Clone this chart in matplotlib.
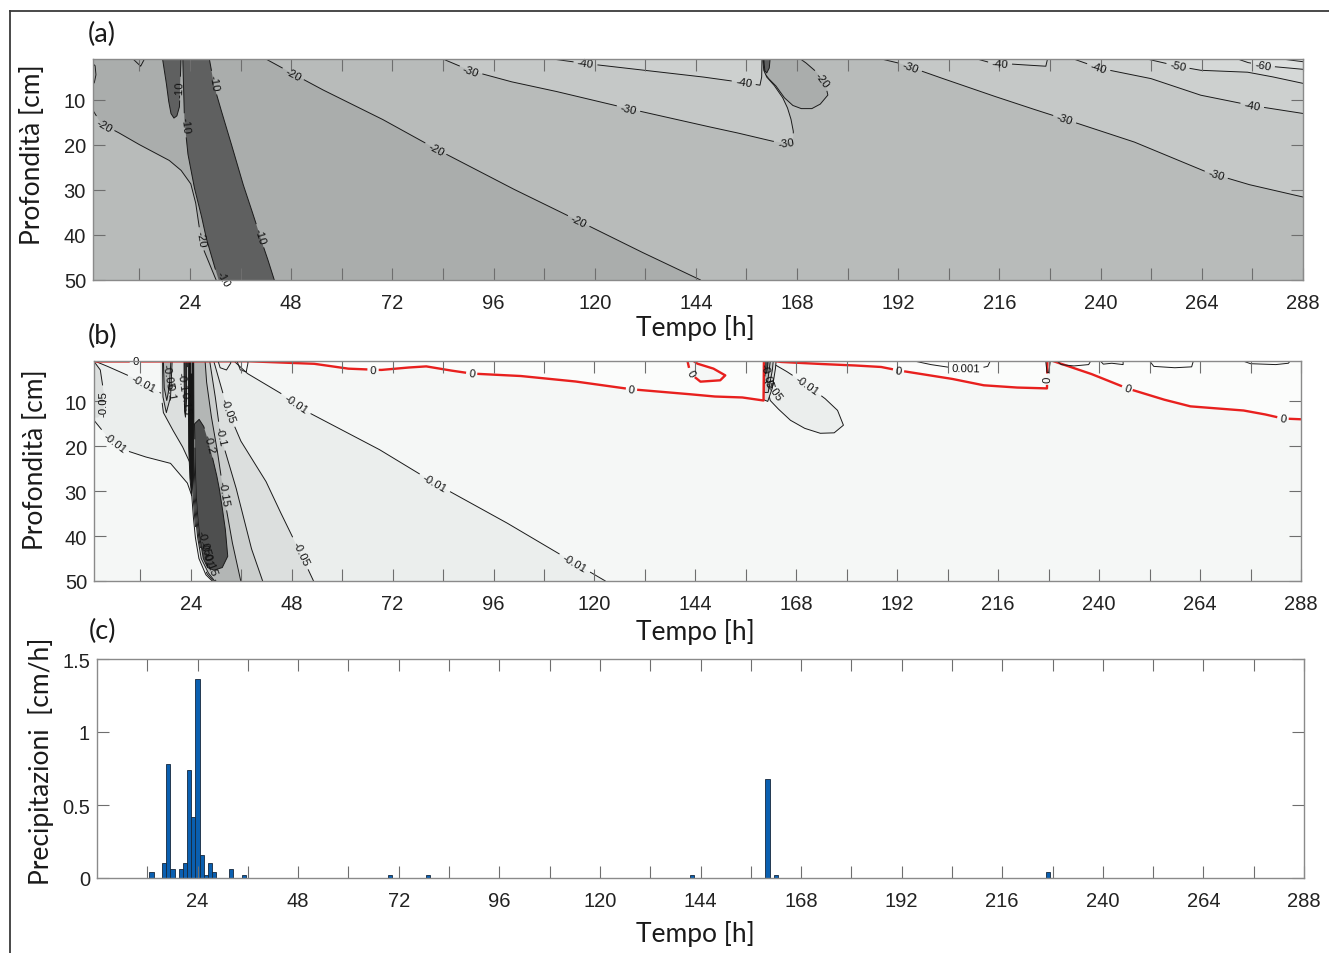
import numpy as np
import matplotlib
matplotlib.use("Agg")
import matplotlib.pyplot as plt
from matplotlib.lines import Line2D

plt.rcParams["font.family"] = ["Liberation Sans", "DejaVu Sans"]

# ------------------------------------------------------------------ data
hour_ticks = list(range(12, 289, 12))
hour_tick_labels = [str(h) if h % 24 == 0 else "" for h in hour_ticks]
depth_ticks = [10, 20, 30, 40, 50]
rain_ticks = [0, 0.5, 1, 1.5]
rain_tick_labels = ["0", "0.5", "1", "1.5"]

# (c) hourly precipitation
rain_hour = [13, 16, 17, 18, 20, 21, 22, 23, 24, 25, 26, 27, 28, 32, 35,
             70, 79, 142, 160, 162, 227]
rain_cm_h = [0.04, 0.10, 0.78, 0.06, 0.06, 0.10, 0.74, 0.42, 1.36, 0.16, 0.02,
             0.10, 0.04, 0.06, 0.02, 0.02, 0.02, 0.02, 0.68, 0.02, 0.04]

a_wet_m20 = [(0, 0), (42, 0), (42, 1), (47.9, 4.0), (55, 7.6), (69.3, 14.2), (82.3, 20.9),
             (100, 29.5), (116.2, 36.9), (130, 43.3), (145.1, 50), (145.1, 51), (30.2, 51),
             (30.2, 50), (28.6, 46.4), (27.0, 42.7), (26.2, 38.3), (25.4, 33.1), (24.2, 28.7),
             (21.9, 25.7), (19.1, 23.5), (12.4, 20.2), (7.6, 17.6), (2.9, 15.3), (1, 12.4), (0, 12.4)]
a_ell_m20 = [(159.95, 0), (159.95, 1), (160.3, 4.2), (161.2, 5.3), (163, 7.0), (165, 9.6),
             (167, 11.3), (169, 12), (171.5, 12), (173.5, 11), (175.3, 9), (174.7, 6.5),
             (172.5, 3.8), (170.3, 2), (168.8, 1), (168.8, 0)]
a_band_m10 = [(22.3, 0), (22.3, 1), (22.5, 8), (22.7, 14.6), (23.5, 22), (25, 29.4), (26.6, 35.3),
              (27.8, 40.5), (29.4, 45.7), (30.8, 50), (30.8, 51), (44, 51), (44, 50), (42.8, 46.4),
              (41.2, 42), (39.2, 36.1), (36.8, 29.4), (34.5, 22), (32.1, 14.6), (29.8, 7.2),
              (28.6, 1), (28.6, 0)]
a_finger_m10 = [(17.5, 0), (17.5, 1), (18.3, 5.7), (18.9, 10.1), (19.5, 13.1), (20.2, 14.1),
                (20.9, 13.6), (21.5, 11.6), (21.7, 5.7), (21.9, 1), (21.9, 0)]
a_sliver_m10 = [(160.1, 0), (160.1, 1), (160.35, 3.6), (160.8, 4.1), (161.4, 3.0), (161.6, 1), (161.6, 0)]
a_dry_m30_1 = [(84, 0), (84, 1), (90.6, 3.6), (100, 6), (110, 8), (128, 12), (145, 15.6),
               (153, 17.2), (162, 19.2), (165, 19.6), (166.6, 19.2), (167.1, 18.3), (167.1, 17),
               (166.6, 14.5), (165.8, 12), (164.6, 9.6), (162.7, 7), (160.8, 5), (160.1, 3.5),
               (159.85, 1), (159.85, 0)]
a_dry_m40_1 = [(110, 0), (110, 1), (117.8, 2), (130, 3.3), (145, 4.9), (155, 6.2), (159.2, 6.8),
               (159.6, 5), (159.7, 1), (159.7, 0)]
a_dry_m30_2 = [(188, 0), (188, 1), (192.5, 2), (200, 4.5), (213, 8.7), (222, 11.5), (231, 14.2),
               (247.7, 19.3), (256, 22.5), (265, 26), (275, 28.8), (288, 31.6), (289, 31.6), (289, 0)]
a_dry_m40_2 = [(210.7, 0), (210.7, 1), (213.8, 1.8), (220, 2.2), (227.0, 2.6), (227.4, 1), (227.4, 0)]
a_dry_m40_3 = [(233.6, 0), (233.6, 1), (240, 3.1), (251.8, 5.3), (263.6, 9), (275.8, 11.3),
               (288, 13.1), (289, 13.1), (289, 0)]
a_dry_m50 = [(251, 0), (251, 1), (258.4, 2.6), (263.6, 3.5), (274.7, 3.9), (280, 4.8), (288, 6.4),
             (289, 6.4), (289, 0)]
a_dry_m60 = [(272.5, 0), (272.5, 1), (275, 1.8), (280, 2.6), (288, 3.3), (289, 3.3), (289, 0)]
a_dry_m70 = [(283, 0), (283, 1), (288, 1.6), (289, 1.6), (289, 0)]
a_small_1 = [(0, 1.2), (1.5, 2.5), (1.7, 4.5), (1.3, 6.3), (0, 6.6)]
a_small_2 = [(10.5, 0), (10.5, 1), (12.3, 2.6), (13.2, 1), (13.2, 0)]

# labels: (region, hour, depth, text[, fixed angle])
a_labels = [("finger", 21.5, 7.5, "-10"), ("band", 22.7, 15.7, "-10"), ("band", 29.2, 6.4, "-10"),
            ("band", 40.8, 40.1, "-10"), ("band", 32.0, 49.6, "-10", -60),
            ("wet", 3.7, 15.7, "-20"), ("wet", 26.6, 40.9, "-20"), ("wet", 48.3, 4.6, "-20"),
            ("wet", 82.3, 20.9, "-20"), ("wet", 116.2, 36.9, "-20"),
            ("d30a", 90.6, 3.6, "-30"), ("d30a", 128, 12, "-30"), ("d30a", 165.5, 19.7, "-30"),
            ("d40a", 117.8, 2.2, "-40"), ("d40a", 155.3, 6.3, "-40"), ("ell", 174.0, 5.5, "-20"),
            ("d30b", 194.9, 2.7, "-30"), ("d30b", 231.6, 14.2, "-30"), ("d30b", 267.4, 26.5, "-30"),
            ("d40b", 216.2, 2.0, "-40"), ("d40c", 239.4, 3.1, "-40"), ("d40c", 275.9, 11.3, "-40"),
            ("d50", 258.4, 2.8, "-50"), ("d60", 278.5, 2.4, "-60")]

b_pos_1 = [(0, 0), (0, 1.1), (20, 1.1), (37.5, 1.05), (53.2, 1.6), (61.3, 2.7), (69.2, 3.0),
           (75, 2.5), (80, 2.2), (85, 3), (90.8, 3.8), (102, 4.3), (115, 5.5), (128.8, 7.3),
           (140.4, 8.2), (148.3, 8.9), (155, 9.1), (160.2, 9.8), (160.3, 0)]
b_loop_0 = [(142.1, 0), (142.1, 0.95), (142.8, 3.8), (145.2, 5.6), (149.9, 5.3), (151.1, 4.2),
            (148.3, 2.7), (144.5, 1.6), (143.5, 0.95), (143.5, 0)]
b_pos_2 = [(162.5, 0), (162.5, 0.95), (164.2, 1.2), (172.1, 1.6), (180, 1.9), (188, 2.3),
           (192.3, 3.1), (204.6, 4.9), (212.4, 6.4), (220, 6.9), (227.6, 7.1), (227.7, 0)]
b_pos_3 = [(229, 0), (229, 1), (237.9, 3.8), (246.7, 7.1), (255, 9.5), (261.7, 11.1),
           (274.2, 12), (279, 12.8), (283.7, 13.8), (288, 14), (289, 14), (289, 0)]
b_neg_001 = [(0, 14.2), (1, 14.2), (4.2, 17.9), (8.2, 20.8), (13, 22.3), (19.2, 23.8),
             (23.2, 28.2), (24.25, 31), (24.55, 35), (25.05, 40), (25.95, 45), (27.6, 48.6),
             (29.1, 50), (29.1, 51), (122.6, 51), (122.6, 50), (115.3, 46), (100, 37.5), (82, 28.2),
             (69.2, 20.9), (52.5, 12.7), (45.4, 8.2), (37.5, 3.8), (34.5, 1.2), (34.5, 0),
             (17.2, 0), (17.2, 1.2), (17.5, 8.5), (16, 7.6), (12.8, 6), (10, 4.6), (5, 2.5),
             (1.5, 1.15), (0, 1.15)]
b_pocket_005 = [(0, 1.1), (1, 1.1), (2.5, 3), (3.3, 8), (3.3, 12), (2, 13.6), (0, 13.6)]
b_ell_001 = [(160.5, 0), (160.5, 1.1), (160.8, 6), (161.8, 9.8), (163.5, 11.5), (166.6, 14.2),
             (170, 16), (173.7, 17.1), (177, 17), (179.2, 15.3), (177.8, 12), (175, 9.5),
             (170.6, 6.4), (166, 3.5), (162.5, 1.6), (162.5, 0)]
b_neg_005 = [(16.8, 0), (16.8, 1.1), (16.9, 8), (17.5, 12.5), (19.5, 16), (22, 20), (24.0, 24),
             (24.35, 25), (24.55, 31), (24.85, 35), (25.35, 40), (26.25, 45), (27.9, 48.4),
             (29.4, 50), (29.4, 51), (53.2, 51), (53.2, 50), (50.1, 43.8), (46, 36), (42, 28),
             (36, 19), (32.8, 12), (31, 6), (29.5, 1.1), (29.5, 0)]
b_neg_005_e = [(160.2, 0), (160.2, 1.1), (160.2, 9.6), (161.2, 10), (162.3, 7), (163, 3), (163.2, 1.1), (163.2, 0)]
b_neg_010_f = [(17.3, 0), (17.3, 1.1), (17.4, 9), (18.2, 12.5), (19.2, 9), (19.6, 1.1), (19.6, 0)]
b_neg_010 = [(23.2, 0), (23.2, 1.1), (23.3, 12), (24.5, 20), (24.6, 25), (24.8, 31), (25.1, 35),
             (25.6, 40), (26.5, 45), (28.2, 48.2), (29.7, 50), (29.7, 51), (41.1, 51), (41.1, 50),
             (38.5, 43), (35.0, 30), (32.5, 22), (31.1, 17.8), (30.0, 10), (28.5, 1.1), (28.5, 0)]
b_neg_010_e = [(160.3, 0), (160.3, 1.1), (160.35, 8), (161.3, 8), (162.3, 3), (162.5, 1.1), (162.5, 0)]
b_neg_015_f = [(17.5, 0), (17.5, 1.1), (17.7, 7), (18.3, 9.8), (18.9, 7), (19.3, 1.1), (19.3, 0)]
b_neg_015 = [(24.6, 0), (24.6, 1.1), (24.6, 15), (24.75, 20), (24.85, 25), (25.05, 31),
             (25.35, 35), (25.85, 40), (26.75, 45), (28.5, 48), (30.0, 50), (30, 51), (35.9, 51),
             (35.9, 50), (34, 42), (31.8, 30.4), (30.5, 22), (29.0, 14), (27.8, 6), (27.4, 1.1), (27.4, 0)]
b_neg_015_e = [(160.4, 0), (160.4, 1.1), (160.45, 6), (161.2, 5.5), (161.8, 1.1), (161.8, 0)]
b_neg_020 = [(24.9, 15), (25.0, 20), (25.1, 25), (25.3, 31), (25.6, 35), (26.1, 40), (27.0, 45),
             (28.0, 47), (29.5, 47.6), (31.5, 47), (32.8, 44.5), (32.3, 39), (31.8, 35.6),
             (30.9, 30), (30.3, 27), (29.3, 23), (28.3, 19.3), (27.1, 15.6), (26.0, 14)]
b_neg_020_e = [(160.45, 0), (160.45, 1.1), (160.5, 4), (161.0, 3.5), (161.3, 1.1), (161.3, 0)]
b_neg_050 = [(23.5, 0), (23.5, 1.1), (23.45, 10), (23.5, 20), (23.8, 27), (24.2, 31), (24.6, 27),
             (24.75, 15), (24.7, 1.1), (24.7, 0)]
b_neg_050_b = [(22.4, 0), (22.4, 1.1), (22.5, 12), (22.75, 13.5), (23.0, 10), (23.05, 1.1), (23.05, 0)]
b_p001_1 = [(196, 0), (196, 1), (200, 1.8), (205, 2.5), (211.5, 2.6), (213.5, 2.2), (214, 1.2), (213.4, 0.9)]
b_p001_2 = [(230, 0), (230, 1), (231, 1.8), (234, 2.1), (237.5, 1.8), (238, 1), (238, 0)]
b_p001_3 = [(240.3, 0), (240.3, 1), (241, 1.7), (243, 1.5), (245.7, 1.8), (245.7, 0)]
b_p001_4 = [(252, 0), (252, 1), (253, 2.2), (258, 2.5), (262, 2.3), (262.4, 1), (262.4, 0)]
b_p001_5 = [(274.2, 0), (274.2, 1), (276, 1.6), (282, 1.8), (285, 1.5), (285.4, 1), (285.4, 0)]
b_small_1 = [(30.5, 0), (30.5, 1), (31, 2.5), (32.5, 3), (33.5, 1.5), (33.6, 0)]
b_small_2 = [(35, 0), (35, 1), (35.8, 3), (37.2, 3.4), (37.6, 1.5), (37.6, 0)]
b_small_3 = [(227.3, 0), (227.3, 1), (227.6, 3.5), (228.0, 3.6), (228.4, 1), (228.4, 0)]

b_labels = [("pos1", 10.9, 1.6, "0"), ("pos1", 67.3, 3.3, "0"), ("pos1", 90.8, 3.8, "0"),
            ("pos1", 128.8, 7.3, "0"), ("loop", 142.8, 3.8, "0"), ("pos2", 192.3, 3.1, "0"),
            ("pos2", 227.65, 5.0, "0"), ("pos3", 246.7, 7.1, "0"), ("pos3", 283.7, 13.8, "0"),
            ("n001", 49.0, 10.4, "-0.01"), ("n001", 82, 28.2, "-0.01"), ("n001", 115.3, 46, "-0.01"),
            ("n001", 12.8, 6, "-0.01"), ("n001", 5.7, 19.3, "-0.01"), ("pocket", 3.3, 10.4, "-0.05"),
            ("n005", 32.8, 12, "-0.05"), ("n005", 50.1, 43.8, "-0.05"), ("n010", 31.1, 17.8, "-0.1"),
            ("n015", 31.8, 30.4, "-0.15"), ("n020", 28.3, 19.3, "-0.2"), ("ell", 170.6, 6.4, "-0.01"),
            ("p001", 208.3, 2.6, "0.001"),
            ("n005", 18.6, 4.5, "-0.05", -80), ("n005", 19.1, 7.5, "-0.1", -80),
            ("n010", 21.9, 5.5, "-0.1", -82), ("n010", 22.6, 10.0, "-0.15", -82),
            ("n005", 27.0, 41.5, "-0.05", -75), ("n005", 27.6, 44.0, "-0.01", -75),
            ("n015", 28.5, 46.0, "-0.15", -70),
            ("n005", 161.0, 4.2, "-0.05", -75), ("n005", 162.4, 7.2, "-0.05", -55)]

# ------------------------------------------------------------------ style
W, H = 1329, 954
A_C = {"gt10": "#5f6060", "10_20": "#aaadac", "20_30": "#b8bbba", "30_40": "#c5c8c7",
       "40_50": "#cdd0cf", "50_60": "#d5d8d7", "60_70": "#dcdfde"}
B_C = {"bg": "#f5f7f6", "pos": "#fbfcfb", "1": "#ebeeed", "2": "#dcdfde", "3": "#cbcecd",
       "4": "#b3b6b5", "5": "#4e4f4f", "6": "#161616"}
RED = "#e8201e"
LABEL_FONT = dict(fontsize=8.2, color="#111111", family=["Liberation Sans", "DejaVu Sans"])

fig = plt.figure(figsize=(W / 100, H / 100), dpi=100)


def rect(l, t, r, b):
    return [l / W, 1 - b / H, (r - l) / W, (b - t) / H]


axA = fig.add_axes(rect(93, 60, 1303, 281))
axB = fig.add_axes(rect(94, 362, 1301, 582))
axC = fig.add_axes(rect(97, 660, 1304, 879))


def setup(ax, xlim, ylim, yticks, ylabels):
    ax.set_xlim(*xlim)
    ax.set_ylim(*ylim)
    ax.set_xticks(hour_ticks)
    ax.set_xticklabels(hour_tick_labels)
    ax.set_yticks(yticks)
    ax.set_yticklabels(ylabels)
    ax.tick_params(axis="both", direction="in", length=8.6, width=0.8, color="#6e6e6e",
                   labelcolor="#222222", labelsize=14.5, top=True, right=True)
    ax.tick_params(axis="x", pad=9.5)
    ax.tick_params(axis="y", pad=5)
    ax.set_axisbelow(False)
    for s in ax.spines.values():
        s.set_color("#8a8a8a")
        s.set_linewidth(1.0)
        s.set_zorder(20)


setup(axA, (1, 288), (50, 1), depth_ticks, [str(v) for v in depth_ticks])
setup(axB, (1, 288), (50, 1), depth_ticks, [str(v) for v in depth_ticks])
setup(axC, (0, 288), (0, 1.5), rain_ticks, rain_tick_labels)


def draw_contour(ax, pts, color, lw, labels, closed=True):
    pts = np.asarray(pts, float)
    if closed:
        pts = np.vstack([pts, pts[:1]])
    disp = ax.transData.transform(pts)
    parts = [disp[:1]]
    for p, q in zip(disp[:-1], disp[1:]):
        n = max(int(np.hypot(*(q - p)) / 0.7), 1)
        k = (np.arange(1, n + 1) / n)[:, None]
        parts.append(p + (q - p) * k)
    dense = np.vstack(parts)
    keep = np.ones(len(dense), bool)
    inv = ax.transData.inverted()
    for lab in labels:
        t, d, txt = lab[1], lab[2], lab[3]
        c = ax.transData.transform((t, d))
        if len(lab) > 4:
            ang = lab[4]
            centre = c
        else:
            dist = np.hypot(dense[:, 0] - c[0], dense[:, 1] - c[1])
            i = int(np.argmin(dist))
            centre = dense[i]
            j0, j1 = max(i - 6, 0), min(i + 6, len(dense) - 1)
            dx, dy = dense[j1] - dense[j0]
            ang = np.degrees(np.arctan2(dy, dx))
            if ang > 90:
                ang -= 180
            if ang <= -90:
                ang += 180
        r = 3.0 * len(txt) + 2.5
        keep &= np.hypot(dense[:, 0] - centre[0], dense[:, 1] - centre[1]) > r
        tx, ty = inv.transform(centre)
        ax.text(tx, ty, txt, rotation=ang, rotation_mode="anchor", ha="center", va="center",
                zorder=5, clip_on=False, **LABEL_FONT)
    dense[~keep] = np.nan
    data = inv.transform(dense)
    ax.plot(data[:, 0], data[:, 1], color=color, lw=lw, zorder=1, solid_capstyle="butt")


def region(ax, name, pts, fc, labels, lc="#1a1a1a", lw=0.7):
    p = np.asarray(pts, float)
    if fc is not None:
        ax.fill(p[:, 0], p[:, 1], fc=fc, ec="none", lw=0, zorder=1)
    draw_contour(ax, pts, lc, lw, [l for l in labels if l[0] == name])


# ------------------------------------------------------------------ panel (a)
axA.set_facecolor(A_C["20_30"])
region(axA, "wet", a_wet_m20, A_C["10_20"], a_labels)
region(axA, "ell", a_ell_m20, A_C["10_20"], a_labels)
region(axA, "band", a_band_m10, A_C["gt10"], a_labels)
region(axA, "finger", a_finger_m10, A_C["gt10"], a_labels)
region(axA, "sliver", a_sliver_m10, A_C["gt10"], a_labels)
region(axA, "d30a", a_dry_m30_1, A_C["30_40"], a_labels)
region(axA, "d30b", a_dry_m30_2, A_C["30_40"], a_labels)
region(axA, "d40a", a_dry_m40_1, A_C["40_50"], a_labels)
region(axA, "d40b", a_dry_m40_2, A_C["40_50"], a_labels)
region(axA, "d40c", a_dry_m40_3, A_C["40_50"], a_labels)
region(axA, "d50", a_dry_m50, A_C["50_60"], a_labels)
region(axA, "d60", a_dry_m60, A_C["60_70"], a_labels)
region(axA, "d70", a_dry_m70, "#e2e5e4", a_labels)
region(axA, "s1", a_small_1, None, a_labels)
region(axA, "s2", a_small_2, None, a_labels)

# ------------------------------------------------------------------ panel (b)
axB.set_facecolor(B_C["bg"])
region(axB, "n001", b_neg_001, B_C["1"], b_labels)
region(axB, "pocket", b_pocket_005, B_C["2"], b_labels)
region(axB, "ell", b_ell_001, B_C["1"], b_labels)
region(axB, "n005", b_neg_005, B_C["2"], b_labels)
region(axB, "n005e", b_neg_005_e, B_C["2"], b_labels)
region(axB, "n010f", b_neg_010_f, B_C["3"], b_labels)
region(axB, "n010", b_neg_010, B_C["3"], b_labels)
region(axB, "n010e", b_neg_010_e, B_C["3"], b_labels)
region(axB, "n015f", b_neg_015_f, B_C["4"], b_labels)
region(axB, "n015", b_neg_015, B_C["4"], b_labels)
region(axB, "n015e", b_neg_015_e, B_C["4"], b_labels)
region(axB, "n020", b_neg_020, B_C["5"], b_labels)
region(axB, "n020e", b_neg_020_e, B_C["5"], b_labels)
region(axB, "n050", b_neg_050, B_C["6"], b_labels)
region(axB, "n050b", b_neg_050_b, "#333333", b_labels)
region(axB, "pos1", b_pos_1, B_C["pos"], b_labels, lc=RED, lw=1.7)
region(axB, "loop", b_loop_0, B_C["bg"], b_labels, lc=RED, lw=1.7)
region(axB, "pos2", b_pos_2, B_C["pos"], b_labels, lc=RED, lw=1.7)
region(axB, "pos3", b_pos_3, B_C["pos"], b_labels, lc=RED, lw=1.7)
for nm, pts in [("p001", b_p001_1), ("q2", b_p001_2), ("q3", b_p001_3), ("q4", b_p001_4),
                ("q5", b_p001_5), ("q6", b_small_1), ("q7", b_small_2), ("q8", b_small_3)]:
    draw_contour(axB, pts, "#1a1a1a", 0.7, [l for l in b_labels if l[0] == nm], closed=False)

# ------------------------------------------------------------------ panel (c)
axC.bar(rain_hour, rain_cm_h, width=1.0, color="#0a5fb0", edgecolor="#16283c", linewidth=0.6, zorder=2)

# ------------------------------------------------------------------ text
LAB = dict(family=["Lato", "DejaVu Sans"], color="#1a1a1a")
for y in (328, 632, 934):
    fig.text(695 / W, 1 - y / H, "Tempo [h]", ha="center", va="center", fontsize=19, **LAB)
fig.text(33 / W, 1 - 155 / H, "Profondità [cm]", ha="center", va="center", rotation=90, fontsize=19, **LAB)
fig.text(36 / W, 1 - 460 / H, "Profondità [cm]", ha="center", va="center", rotation=90, fontsize=19, **LAB)
fig.text(41 / W, 1 - 761 / H, "Precipitazioni  [cm/h]", ha="center", va="center", rotation=90, fontsize=19, **LAB)
fig.text(102 / W, 1 - 34 / H, "(a)", ha="center", va="center", fontsize=19.5, **LAB)
fig.text(103 / W, 1 - 336 / H, "(b)", ha="center", va="center", fontsize=19.5, **LAB)
fig.text(103 / W, 1 - 631 / H, "(c)", ha="center", va="center", fontsize=19.5, **LAB)

# figure frame (top and left edges)
fig.add_artist(Line2D([10 / W, 1], [1 - 12 / H, 1 - 12 / H], color="#3a3a3a", lw=1.3))
fig.add_artist(Line2D([10 / W, 10 / W], [0, 1 - 12 / H], color="#3a3a3a", lw=1.3))

fig.savefig("out.png", dpi=100, facecolor="white")
